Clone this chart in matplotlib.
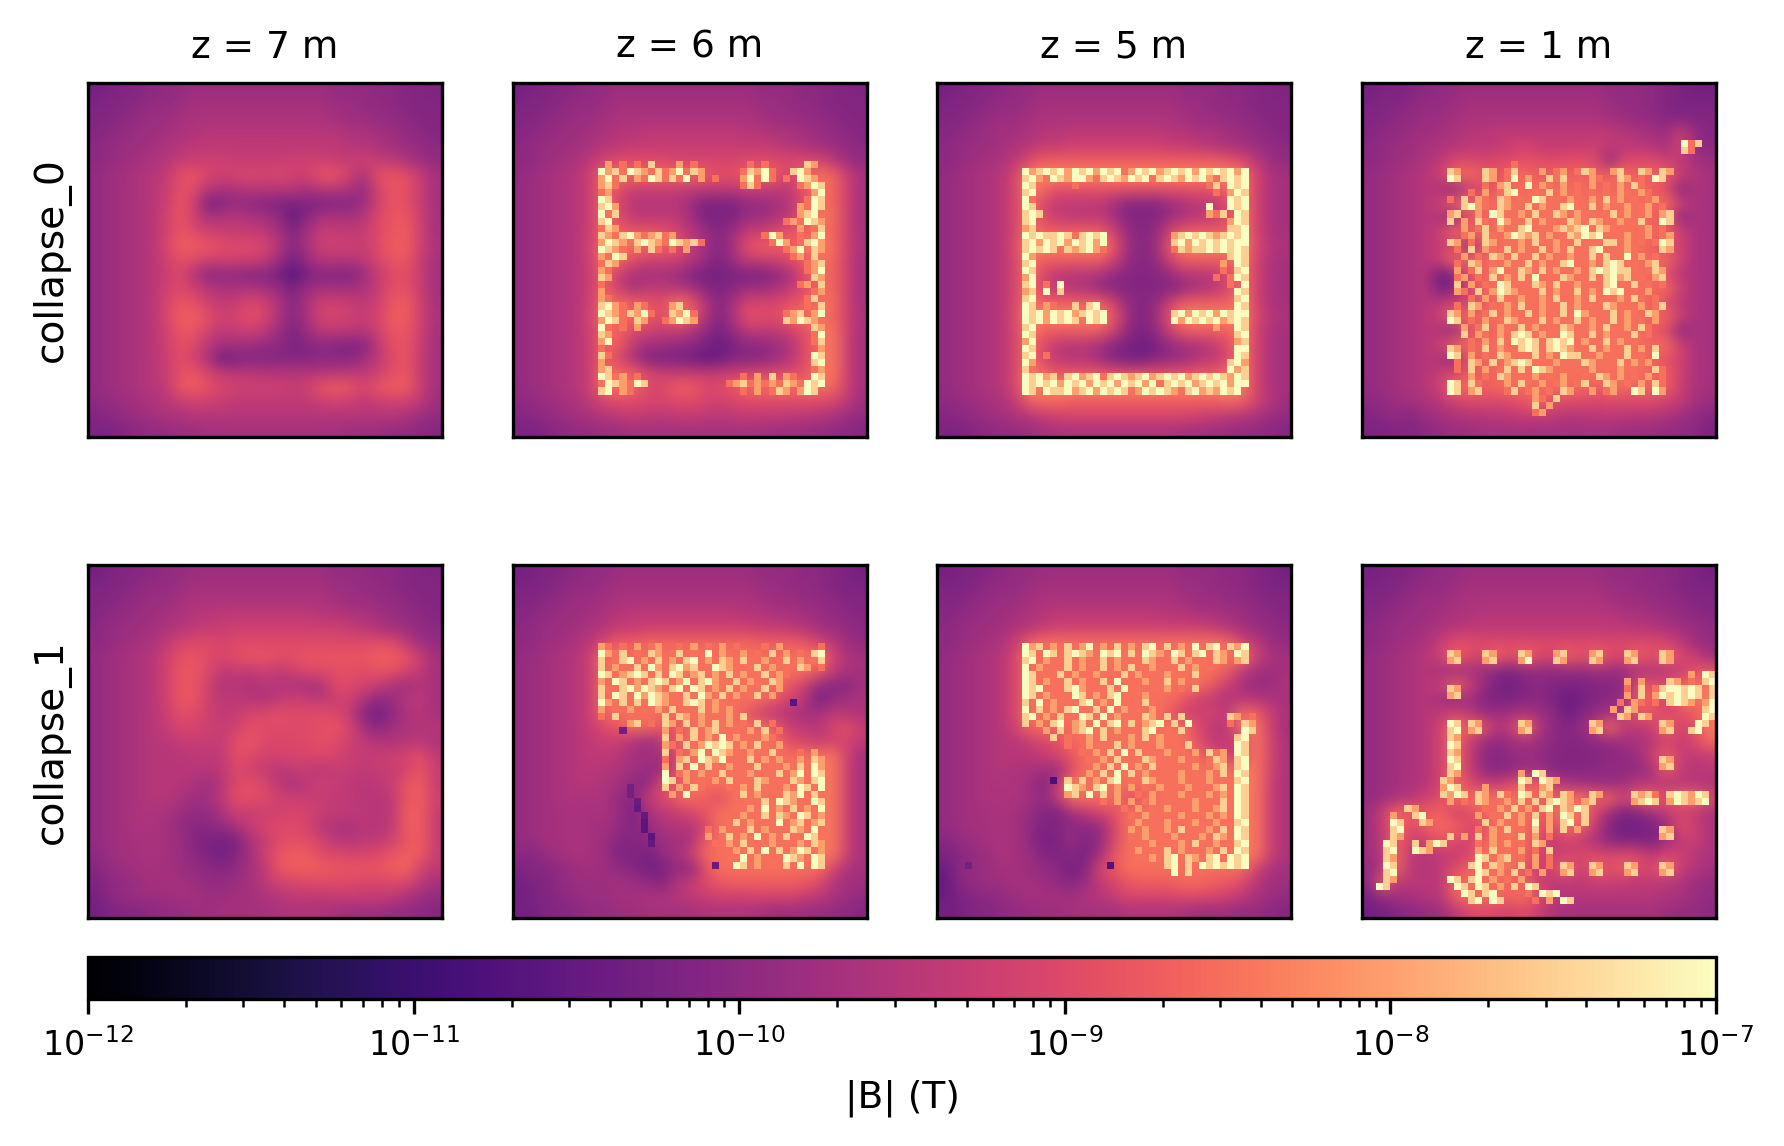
import matplotlib
matplotlib.use("Agg")
import matplotlib.pyplot as plt
import numpy as np
from matplotlib.colors import LogNorm

# Field maps are stored as text rows, one character per grid cell.
# FIELD rows: smooth |B| on a 25x25 grid, log10(B) = -11 + 0.1 * (index in SYMBOLS).
# PEAK rows: fine cells on a 50x50 grid, '.' = nothing drawn,
#   digit: log10(B) = -9.25 + 0.25 * digit, capital: log10(B) = -11 + 0.1 * (A=0, B=1, ...).
SYMBOLS = "0123456789abcdefghijklmnopqrstuvwxyz"

z_labels = ["z = 7 m", "z = 6 m", "z = 5 m", "z = 1 m"]
scenario_labels = ["collapse_0", "collapse_1"]

field_c0_z7 = [
"7899a bbccc ccccc ccbbb aa998", "899ab bcddd ddddd ddccb ba999", "99abc cdeee eeeee eedcc bba99",
"9abcc deeff fffff fffee dcba9", "abccd efggg ggggg gggff edcba", "abcde fhhii hhhhi iihhi hgecb",
"bcdef glmji jkjki immie lmlhd", "bcdef hlkfe effff effeb jmlhd", "bcdef hmi79 ba988 8899c imlhd",
"bcdef imief fedb5 aeeef kmmid", "bcdef imkih hhgd9 dhhgh kmnid", "bcdef jnnml kkjf9 eiiih knnie",
"bcdef ilkii iihc7 cfffg jmmhd", "bcdef hkeaa a9973 8998c hklhd", "bcdef ikife eedb8 cddde hllhd",
"bcdef jmlig hkie9 eiihg imnid", "bcdef jnnli jlje9 ejjih jnnie", "bcdef immig higc8 cgggf immid",
"bcdef ilkfd dcba8 9a989 glmhd", "bcdef hlie6 89999 9aaac gkmhd", "bcdef hlmjh ggfff fffgg ilmhd",
"bcdef gmnlj iiiih imnmj mnnhd", "abcde fhiih ggggg ghihg hiigc", "9abcd eefff fffff fffff ffecb",
"889ab bccdd ddddd dddcc cbba9",
]
field_c0_z6 = [
"7899a bbccc ccccc ccbbb aa998", "899ab bcddd ddddd ddccb ba999", "99abc cdeee eeeee eedcc bba99",
"9abcc deffg ggggg gffee dcba9", "abccd efghh hhhhh hhhgf edcba", "abcde gjkkk kjjjj jkkkk kjgcb",
"bcdef iopoo ooonl lnoni opoid", "bcdef iokhh hhggg ghhgg lpoid", "bcdef iojff ffc88 8bbdf lpoid",
"bcdef iokgg ggd88 8cceg mppid", "bcdef ionmm ljfc9 chhkm npoid", "bcdef jpppo omhd9 dlnnn oqpie",
"bcdef ipoki iifc8 chhik npoid", "bcdef inhed dc977 888ad kooid", "bcdef inhdg gfda8 acceg kooid",
"bcdef iponm kpnf9 djjjl nppid", "bcdef jpoon kpnf9 ellko opoie", "bcdef ionki hhfb7 bgggi loqid",
"bcdef ionfd cba86 8aace koqid", "bcdef inje8 88756 99acf koqid", "bcdef iponk ihhhh ijjkk lpqid",
"bcdef ippok jnnkk moppp ppoid", "abcde gjkkj jkkji jkkkk kkjgc", "9abcd efghg gghgg ghghg gfecb",
"889ab bccdd ddddd dddcc cbba9",
]
field_c0_z5 = [
"7899a bbccc ccccc ccbbb aa998", "899ab bcddd ddddd ddccb ba999", "99abc cdeee eeeee eedcc bba99",
"9abcd deffg ggggg gffee dcba9", "abccd efhhi iiiii ihhgf edcba", "abcde gknnn nnnnn nnnnn mkgcb",
"bcdef jqrrr rrrrr rrrrr rqjed", "bcdef jqoll lllll lllll oqjed", "bcdef jpjgg ggd99 9cegg jpjed",
"bcdef jpkhg ggd99 9cegh kqjed", "bcdef jpnnn nnib9 bjnnn nqjed", "bcdef krrrr rrmc9 cmrrr rrkfe",
"bcdef jqnnn nnib9 bjnnn nqjed", "bcdef jpjgf feb99 9bffg jpjed", "bcdef jpjgf eb999 99bef jpjed",
"bcdef jqnnn nnib9 binnn nqjed", "bcdef krrrr rrmc8 cmrrr rrkfe", "bcdef jqnnn nnia8 binnn nqjed",
"bcdef jpkgf fd986 8bdeg kqjed", "bcdef jpjgf fc977 9bcfg jqjed", "bcdef jqomm mmlll lllmm oqjed",
"bcdef jrrrr rrrrr rrrrr rrjed", "abcde gnoon nnnnn nnnnn onjfc", "9abcd efhij jjjjj jjjih gfecb",
"889ab bcdee eeeee eeddc cbba9",
]
field_c0_z1 = [
"7889a bbccc ccccc ccbbb a9877", "899ab bcddd ddddd ddcbb a9888", "99abc cdeee eeeee eedcb b9999",
"9abcc deffg ggggg gggfe dcib9", "abcce efggg ijhhh higgg fdjba", "abcde gjkjk kllkl lkakk kigdc",
"bcdef iopnl opmon onopn onhfd", "bcdef e9gjn oopop oooop mk9ed", "bcdef iopop ppppp ppppp opied",
"bcdef e9kno ppppp ppppp nm9ed", "bcdef iopop ppppp ppppp ooied", "bcdef gk9ko ppppp ppppp nkied",
"bcdef iopop ppppp ppppp opied", "bcdef 69knp ppppp ppppp okfed", "bcdef 79kop ppppp ppppp opied",
"bcdef gihmo ppppp ppppp nkfed", "bcdef iopop ppppp ppppp ooied", "bcdef e9kmo ppppp ppppp mk9ed",
"bcdef iopop ppppp ppppp opied", "bcdef e9loo ppppp ppppp nlied", "bcdef hkmno ppppp ppppp onied",
"bcdef iopno popop onopn onhed", "abcde fijkj kmolk kjkjk kihdc", "9ab9c deffg ghhgf fgggf fecb9",
"8899a bccdd ddddd dddcc cbba8",
]
field_c1_z7 = [
"7899a bbccc ccccc ccbbb aa998", "899ab bcddd ddddd ddccb ba999", "99abc cdeee eeeee eedcc bba99",
"9abcc deffg ggggg gffee dcba9", "abccd efghh iiiii iiihg edcba", "abcde gjkkj kkkkk kkkkk lkgcb",
"bcdef ilmkj lmmll mmmmm nnmhd", "bcdef immkg hgigi kkllk mljgd", "bcdef immie feffe dekkj hecfd",
"bcdef immig gfegi hfiie acfgd", "bcdef hlkig hjklk kljh9 7aefd", "bcdef hjjih ilkkk klmjd 9deff",
"bcdef fhhhh lmkjk klkig feffe", "bcdef ffggg lkijj jkjhh hijlg", "bcdef ffffg kihfh hfhhg hhimh",
"bcdef ffecf kljgd gihgf ghmnh", "bcdef fecdg llkii hhggf fgmni", "bcdee ecbbe ihiij jhhgg fgnnh",
"bcdee db9ab ehjkk jfeef fgnnh", "bcdde dc987 8ehkl kjffg gimnh", "acdde dca87 9dimn nkkjj kmnnh",
"9bcdd dcba9 bdgmn nnmmm mnoig", "8abcd ddcbb cdgij kkkkj jkjgd", "7abcc cddcc ddefg gghhh hgecb",
"7899a bbccd dddee eedcc cbba9",
]
field_c1_z6 = [
"7889a bbccc ccccc ccbbb aa987", "889ab bcddd ddddd ddccb ba988", "99abc cdeee eeeee eedcc bba99",
"9abcc defgg ggggg gffee dcba9", "abccd efhhi iiiii iihhg fdcba", "abcde gknno ooooo oonnn mjgcb",
"bcdef ipppp ppppp ppppp pqjed", "bcdef ipppp ppppp ppppp pnhed", "bcdef ipppp ppppp ppppm iba9d",
"bcdef ipppp ppppp pppmi g7bde", "bcdef ioppp ppppp pmhge ddgfe", "bcdef hkmpo mlopp pppmi gfjlh",
"bcdef gihec fnppp ppppk jhijg", "bcdef ggfdd dkppp ppppp ppqid", "bcdef ffedb bkppp ppppp ppqid",
"bcdef fedaa lmppp ppppp ppqid", "bcdee eeb9h jnpnk ppppp ppqid", "bcdde deb8d ghjmp ppppp ppqid",
"bcdde ddb9b effip ppppp ppqid", "bcdde dc99a cddmp ppppp ppqid", "a9cde dc897 bdhop ppppp ppqid",
"8a9bc dcb97 7c9kp ppppp ppjed", "789bc ccdcb 9ehkm nnnnn mkfdc", "789ab ccdde efghi iijij hgecb",
"7799a bbccd dddee eedcc cbba9",
]
field_c1_z5 = [
"7889a bbccc ccccc ccbbb aa987", "889ab bcddd ddddd ddccb ba988", "99abc cdeee eeeee eedcc bba99",
"9abcc defgg ggggg gffee dcba9", "abccd efhii iiiii iiiih fdcba", "abcde hnppp ppppp ppppp pjgcb",
"bcdef jpppp ppppp ppppp pqjed", "bcdef jpppp ppppp ppppp ngdcd", "bcdef jpppp ppppp ppppm hebce",
"bcdef jpppp ppppp ppmig fffed", "bcdef jpppp ppppp pmhij fpnie", "bcdef iopop ppppp pppkf gqqid",
"bcdef fhjlo ppppp pppkh giqje", "bcdef ffhjm ppppp ppppj ijqje", "bcdef eedbk ppppp ppppp ppqje",
"bcdee ed8gp ppppp ppppp ppqie", "bcdee edbgp pppkn ppppp ppqie", "bcdde dc98d gjlpp ppppp ppqie",
"bcdde db89a abjpp ppppp ppqie", "9bcde db78c 8bjpp ppppp ppqie", "89bce dc989 8cmpp ppppp ppqie",
"6abcd dcba7 9jmpp ppppp ppjed", "59bcc ddcb9 cgjmn nnoon mkfdc", "689ab cdddd efhjj jjkkj igecb",
"7799a bbccd dddee eedcc cbba9",
]
field_c1_z1 = [
"7889a bbccc ccccc ccbbb aa987", "889ab bcddd ddddd ddccb ba988", "99abc cdeee eeeee eedcc bba99",
"9abcc deeff fffff fffee dcba9", "abccd efggg ggggg ggggf fedcb", "abcde hklkk kkkkk kkkkk kjgcb",
"bcdef iokjo kokjo kokjo kokid", "bcdef dbdc9 8abab bcccd efglm", "bcdef hojc8 79a98 899am mkopq",
"bcdef d9d98 89a86 79abn nhopq", "bcdef gjgcc decb6 9bdfn mjlnp", "bcdef ipnnf hpfa9 bhphf hoikq",
"bcdef ioica cdca9 9abce fjhko", "bcdef ioib9 bcb99 99abc inhgh", "bcdef ioib9 acc99 9abab dnhfg",
"bcdef ipkih knohe dcbdf ffffe", "bcefi koppp ppomp pnoio pkppk", "cionm oikop ppmop pjc89 dhige",
"chokn ookkp ppmkp oh877 8blie", "chnii mlinp pokgj gda88 8cgie", "cgoff ghipp pojhi kkjkk fjife",
"bfoff gknpp plhko gokoj kohfd", "aofgf fnpop noifg ghhgg gfecb", "8bddf fnppo opkgf fffff feecb",
"779ab cfjkj ikhed ddddd dcbba",
]

peaks_c0_z6 = {
11: ".......... ...5.3.3.7 ...5.3.... ...3.3.... .75",
12: ".......... ..95739753 7359375... ..37593..7 95",
13: ".......... ..5937.539 73739.5.3. ..59393.3. 975",
14: ".......... ..573..... .......... ..373..... 3597",
15: ".......... ..35...... .......... .......... ..59",
16: ".......... ..97...... .......... .......... .397",
17: ".......... ..795..... .......... .......... 5397",
18: ".......... ..937..... .......... .......... 5793",
19: ".......... ..79...... .......... ........35 3975",
20: ".......... ..375..... .......... .......... 5.37",
21: ".......... ..75379535 735....... .....395.. 3.59",
22: ".......... ..59753797 5397573... ......395. 3795",
23: ".......... ..9753.5.7 3.3.5..... ........35 9375",
24: ".......... ..5397.... .......... .........3 5.73",
25: ".......... ..375..... .......... .......... .357",
26: ".......... ..53...... .......... .......... .359",
27: ".......... ..75...... .......... .......... ..75",
28: ".......... ..3....... .......... .......... 35.7",
29: ".......... ..5....... .......... .......... ..35",
30: ".......... ..53...... .......... .......... .37.",
31: ".......... ..7953.53. ..57...... .......... .3.7",
32: ".......... ..97537593 ..7593.... ........35 7.59",
33: ".......... ..5973.75. .35975.... ........75 9753",
34: ".......... ..93.3.5.. .......... .......... ..75",
35: ".......... ..75...... .......... .......... ..39",
36: ".......... ..59...... .......... .......... ..37",
37: ".......... ..3....... .......... .......... ...5",
38: ".......... ..73...... .......... .......... ..97",
39: ".......... ..5....... .......... .......... ..79",
40: ".......... ..57...... .......... .......... ..35",
41: ".......... ..9735.3.. .......... ..3.5.7.53 ..97",
42: ".......... ..3975397. .......... 3573535375 3979",
43: ".......... ..79.53... .......... ..3.5.375. 597",
}
peaks_c0_z5 = {
12: ".......... ..95797959 7959793597 9579795979 7959",
13: ".......... ..79539759 9537975979 3797597953 7979",
14: ".......... ..97.....3 .......... ........37 .979",
15: ".......... ..79...... .......... .........3 .597",
16: ".......... ..93...... .......... .......... .979",
17: ".......... ..97...... .......... ........9. .979",
18: ".......... ..797..... .......... ........53 7.97",
19: ".......... ..79...... .......... .......... .597",
20: ".......... ..57...... .......... .......... .779",
21: ".......... ..97977973 7979...... ...5797975 7979",
22: ".......... ..79597959 7959...... ...7959797 9799",
23: ".......... ..79797.75 7953...... ...3757797 9797",
24: ".......... ..95...... .......... .......... .797",
25: ".......... ..79...... .......... .......... 5.97",
26: ".......... ..97...... .......... .......... 3.79",
27: ".......... ..59...... .......... .........3 .397",
28: ".......... ..79.3.9.. .......... .......... .3.9",
29: ".......... ..57.9.7.. .......... .......... ..97",
30: ".......... ..79...... .......... .......... ..79",
31: ".......... ..97.53..7 .79....... .......... ..97",
32: ".......... ..97959795 7979...... ...7959795 9799",
33: ".......... ..97959797 .979...... ...9597979 5797",
34: ".......... ..79...... .......... .........5 ..97",
35: ".......... ..97...... .......... .......... ..79",
36: ".......... ..59...... .......... .......... ..57",
37: ".......... ..97...... .......... .......... ..99",
38: ".......... ..79.3.... .......... .......... ..97",
39: ".......... ..95...... .......... .......... .795",
40: ".......... ..73...... .......... .......... .957",
41: ".......... ..97957.79 5793797579 5797957979 7597",
42: ".......... ..97979597 9597959795 9379795797 9599",
43: ".......... ..97.97795 7959797.59 7975.79575 979.",
}
peaks_c0_z1 = {
8: ".......... .......... .......... .......... .....937",
9: ".......... .......... .......... .......... .....73",
11: ".......... .......... .3........ .......... ......",
12: ".......... ..75...75. 37...5.35. 375..57..7 5.75",
13: ".......... ..97...75. 39.5..737. ..53..75.3 .97",
14: ".......... .......3.5 7..9.53.5. 3.5.3.5.73 .",
15: ".......... .....3.5.3 79..3.7.5. 3.3.3.53.5 3",
16: ".......... ..3.7.53.7 5.3.97.3.5 3.5.735.3. 35",
17: ".......... ....7953.7 53.7.53.79 3.7.53.5.3 5.3",
18: ".......... ..57..5.97 3.5.73.75. 53.3.7.5.3 5.57",
19: ".......... ..7.5.73.9 5.37.5.3.7 5.753.5.37 ..97",
20: ".......... ....5.37.5 3.79.3.575 79.75.3..3 5.3",
21: ".......... ....35.73. 59757.53.7 5979.3.5.3 5.35",
22: ".......... ..75.3.75. 3.5.73.53. 7.3.77.5.3 .397",
23: ".......... ...3.7.53. 7.5.37.5.7 3.79.3.53. ..75",
24: ".......... ....5.3.75 .73.7.5.35 3.7.7.39.5 .3",
25: ".......... ...3.75.3. 5.37.53.79 3.5.797.3. 57",
26: ".......... ...5.37.59 3.75.7.5.3 5.7979773. 375",
27: ".......... ...35.3.7. 537.9.3.75 3.7.7957.3 .57",
28: ".......... ...7.5.3.9 7.3.75.73. 5.3.79.37. 3.3",
29: ".......... ...53.7.59 75.3.7.5.3 7.5.979.3. 5",
30: ".......... .....3.5.7 3.53.5.7.3 5.7.3.5.73 .3",
31: ".......... ...3.75.3. 5.73.5.37. 5.3.75.3.5 .37",
32: ".......... ..75.5.37. 5.37.5.37. 95.3.7.53. 75",
33: ".......... ..97.3.5.3 75.3.7.53. 7.5.37.5.3 .5",
34: ".......... ....5.37.5 3.7.5.3.75 3.5.73.5.7 3",
35: ".......... ....7.53.5 3797.53.97 3.7.5.3.7. 3",
36: ".......... .....3.5.7 .9797.7979 .53.7.5.3.",
37: ".......... ..75.3.7.5 3.797.7975 3.7.53.7.5 .7",
38: ".......... ..97.5.3.7 5.3.7.5.97 73.5.3.7.3 .9",
39: ".......... ...3.75.7. 5797.3.5.3 .75.3.7.53 5",
40: ".......... ...3.7.5.3 7.7.975.3. 3.5.3.5.3. .73",
41: ".......... .....5.3.7 5.3.5.3.5. .3.75.5.3. 5.3",
42: ".......... ..97.73... 5.73.5.35. 37..75.3.5 .73",
43: ".......... ..97.57... 37.35.3.75 ..5.35..97 .95",
44: ".......... .......... ....53.7.. ..........",
45: ".......... .......... ....7.5... ..........",
46: ".......... .......... ....35.... ..........",
}
peaks_c1_z6 = {
11: ".......... ..53.3.5.3 5..3.5.3.5 .3...3.5.. ...3",
12: ".......... ..9537.3.7 5.37.3.9.5 3.5.3.7.5. 3.79",
13: ".......... ..7.379.53 7.5.7935.7 5.73.5.37. 5.37",
14: ".......... ..7.53.7.9 537957.397 5.3.7.5.3. 75.3",
15: ".......... ..97.57973 7.97.57.53 7.53.7.53. ....",
16: ".......... ..5.97.5.7 97.59.7953 .7.53.75..",
17: ".......... ..73.79597 5.79.97.5. 7.5.37.5..",
18: ".......... ..7.97.959 753.7.9537 .5.37.5...",
19: ".......... ..9537.7.9 75.3797.53 .........E",
20: ".......... ..5.3.5.3. 5.7.3.7.5. 5.........",
21: ".......... ..3.7..... .7.75.5.3. 5.7.......",
22: ".......... ......57.3 .75.7.5.7. 5.3.7.3...",
23: ".......... .....H.... .5.3.7.57. .3.5.7.3..",
24: ".......... .......... .7.5.7.5.9 .5.3.53...",
25: ".......... .......... .53.7.5979 7.5.73.5..",
26: ".......... .......... .7.3.59.97 53.5..7... 3.5",
27: ".......... .......... .3.57.9759 .3.7.5.5.. 5.75",
28: ".......... .......... .5.7.9.7.3 5.3.7.3.5. 7.95",
29: ".......... .......... .9.35.53.7 .3.5.3.7.5 9.97",
30: ".......... .......... .97.5.3.5. 7.3.75.3.7 5.79",
31: ".......... ......H... .7.5.73... 3.5.7.3.5. 97.9",
32: ".......... ......H... ..5.9..... ..7.5.3.75 9.73",
33: ".......... .......G.. .......... ...3.7.975 3.97",
34: ".......... .......F.. .......... .3.5.9.5.7 .5.9",
35: ".......... ........F. .......... ..5.37.753 97.5",
36: ".......... ........E. .......... .7.5.3.9.5 7.57",
37: ".......... ........E. .......3.5 .3.7.5.3.7 5.9.",
38: ".......... .........E .......5.3 7.5.9.5.73 .97.",
39: ".......... .........F ........3. 5.7.3.5.3. 5.75",
40: ".......... .......... .......... .5.7.9.7.5 97.5",
41: ".......... .......... .......... ..9.5.3.97 5.97",
42: ".......... .......... ........G. .97.5.3.7. 9.97",
}
peaks_c1_z5 = {
11: ".......... ..957.5.7. 59.5.7.5.7 9.7.5.9.79 .759",
12: ".......... ..97.97.79 75.979.7.9 75.97.79.7 5.97",
13: ".......... ..79.5.37. 5.37.5.3.7 5.37.5.3.7 5.57",
14: ".......... ..9.5.3.7. 53.7.5.7.3 5.3.7.5.3.",
15: ".......... ..97.3.7.5 3.5.3.7.5. 3.5.3.7...",
16: ".......... ..97.53.7. 53.7.9.3.5 3.7.5.3...",
17: ".......... ..979.3.79 5.3.7.9.3. 3.5.3.7...",
18: ".......... ..97.5.3.9 7.5.79.3.5 ..........",
19: ".......... ..7.9.5.3. 79.5.9.3.7 3.........",
20: ".......... ..9.7.5.79 3.7.9.5.3. 5.........",
21: ".......... ..79.5.7.3 97.9.5.3.7 5.7.7..... .75.3",
22: ".......... ..7.5.79.5 7.9.79.7.5 79.7.9.... .3.75",
23: ".......... .....5.7.5 79.7.5.3.7 9.3.7..... ...97",
24: ".......... ......7.3. .5.7.3.5.7 .5.3...... ..79",
25: ".......... ........3. .5.3.7.5.3 .5.3.7.... ..97",
26: ".......... .......... 3.5.7.9.7. 3.5.3.5.73 5.97",
27: ".......... .......... .3.5.7.3.7 5.3.5.3.37 5.79",
28: ".......... .......... ..5.7.9.5. 7.3.3.5.35 7.79",
29: ".......... .......... .5.7.9.7.5 3.3.5.3.53 7.97",
30: ".......... ......C.73 7.5.79.3.7 5.3.5.3.5. 3.79",
31: ".......... ........97 5.79.5.5.3 .5.3.5.3.5 7.97",
32: ".......... ........57 .9.7.5..3. 5.3.5.3.5. 5.97",
33: ".......... .......... ...3.5.5.3 5.3.3.5.3. 7.97",
34: ".......... .......... ......3.5. 3.5.3.5.35 7.97",
35: ".......... .......... .......3.5 3.3.5.3.53 5.97",
36: ".......... .......... ........5. 3.5.3.5.35 3.79",
37: ".......... .......... .......5.5 3.5.7.3.53 7.97",
38: ".......... .......... .......3.5 .3.5.3.5.7 5.97",
39: ".......... .......... ........3. 5.3.5.7.35 3.79",
40: ".......... .......... ........5. 3.7.5.3.53 7.97",
41: ".......... .......... ........3. 5.79.75.79 .979",
42: "....H..... .......... ....D..... ..79.7.979 7979",
43: ".......... .......... .......... ...9.7....",
}
peaks_c1_z1 = {
12: ".......... ..75...75. ..75...57. ..57...75. ..75",
13: ".......... ..57...57. ..59...75. ..75...57. ..75",
15: ".......... .......... .......... .......... ......5.97",
16: ".......... .......... .......... .......5.5 ...75.3.79",
17: ".......... ..75...... .......... .......3.7 .3799797.7",
18: ".......... ..57...... .......... .......5.7 .5979797.7",
19: ".......... .......... .......... ......3.53 .3.7975.59",
20: ".......... .......... .......... .....5.75. ........79",
21: ".......... .......... .......... ......75.7 5.......97",
22: ".......... ..97.75... ..75...... ..75...... ..75...97.",
23: ".......... ..79.57... ..57...... ..57...... ..57..79..",
24: ".......... ..75",
25: ".......... ..97",
26: ".......... ..75",
27: ".......... ..97...... .......... .......... ..75",
28: ".......... ..79...... .......... .......... ..57",
29: ".......... ..75...... ..5.97....",
30: ".......... .75....... ..97.975..",
31: ".......... .597...5.. ..7..57...",
32: ".......... .7597.75.7 3.97.75.75 ..75....75 73.797597.",
33: ".......... ..5.3.75.3 5.7.7.7975 .57.....57 97.597579.",
34: "......75.. .......3.5 .7.5.79.75 97........",
35: "....5..79. ......5.3. 7.5.7.5.97 .7........",
36: "....97..75 .......7.5 3.5.9.5.79 .7........",
37: "....79.... ......3.5. 7.3.7.5.7. 5......... ..75",
38: "....75.... ..7.5.7.5. 3.7.5.3... .......... ..57",
39: "...97..7.5 97....3.5. 5.3.75....",
40: "...79..975 ......5.7. 3.5.3.7...",
41: "...75..... ......97.5 7.3.5.3...",
42: "...97..... .....79.75 3.7.5.3.75 ..75...75. ..75",
43: "...79..... ......97.5 .7.3.5..57 ..57...57. ..57",
44: "...75..... ..97.79.5. 3.5.......",
45: "..97...... ...97.97.5 .7.97.....",
46: ".......... ....97.79. ...3.979..",
47: ".......... .....79.97 ....3.5.97",
}

fields = [[field_c0_z7, field_c0_z6, field_c0_z5, field_c0_z1],
          [field_c1_z7, field_c1_z6, field_c1_z5, field_c1_z1]]
peaks = [[{}, peaks_c0_z6, peaks_c0_z5, peaks_c0_z1],
         [{}, peaks_c1_z6, peaks_c1_z5, peaks_c1_z1]]


def decode_field(rows, size=25):
    grid = np.zeros((size, size))
    for r, row in enumerate(rows):
        compact = row.replace(" ", "")
        cells = compact[:size].ljust(size, compact[-1])
        grid[r] = [-11 + 0.1 * SYMBOLS.index(c) for c in cells]
    return 10.0 ** grid


def decode_peaks(rows, size=50):
    grid = np.full((size, size), np.nan)
    for r, row in rows.items():
        for c, ch in enumerate(row.replace(" ", "")[:size]):
            if ch.isdigit():
                grid[r, c] = -9.25 + 0.25 * int(ch)
            elif ch.isupper():
                grid[r, c] = -11 + 0.1 * (ord(ch) - ord("A"))
    return np.ma.masked_invalid(10.0 ** grid)


W, H = 1784, 1146
plt.rcParams["font.size"] = 8
fig = plt.figure(figsize=(W / 300, H / 300), dpi=300)
norm = LogNorm(vmin=1e-12, vmax=1e-7)
cmap = "magma"


def px_axes(left, right, top, bottom):
    return fig.add_axes([left / W, 1 - bottom / H, (right - left) / W, (bottom - top) / H])


lefts = [88, 513, 937, 1362]
rows_px = [(83, 437), (565, 918)]
for i, (top, bottom) in enumerate(rows_px):
    for j, left in enumerate(lefts):
        ax = px_axes(left, left + 354, top, bottom)
        im = ax.imshow(decode_field(fields[i][j]), cmap=cmap, norm=norm, extent=(0, 1, 0, 1),
                       interpolation="bicubic", interpolation_stage="rgba", aspect="auto")
        if peaks[i][j]:
            ax.imshow(decode_peaks(peaks[i][j]), cmap=cmap, norm=norm, extent=(0, 1, 0, 1),
                      interpolation="nearest", aspect="auto")
        ax.set_xticks([])
        ax.set_yticks([])
        if i == 0:
            ax.set_title(z_labels[j], fontsize=9)
        if j == 0:
            ax.set_ylabel(scenario_labels[i], fontsize=9.4)

cax = px_axes(88, 1716, 957, 999)
cbar = fig.colorbar(im, cax=cax, orientation="horizontal")
cbar.set_label("|B| (T)", fontsize=9)
cbar.ax.tick_params(labelsize=8)

fig.savefig("out.png", dpi=300)
